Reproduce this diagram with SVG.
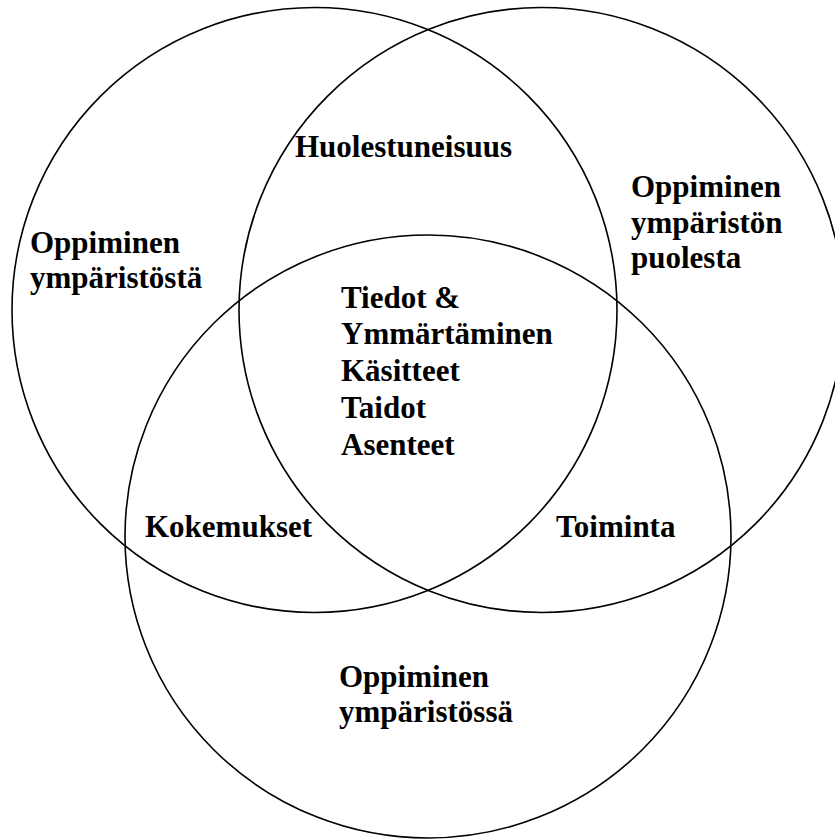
<svg xmlns="http://www.w3.org/2000/svg" width="835" height="839" viewBox="0 0 835 839">
<style>
.c{fill:none;stroke:#000;stroke-width:1.6}
.t{font-family:"Liberation Serif","Times New Roman",serif;font-weight:bold;font-size:31px;fill:#000}
</style>
<rect width="835" height="839" fill="#fff"/>
<g id="circle-left"><ellipse class="c" cx="314.5" cy="310" rx="302.5" ry="302.5"/></g>
<g id="circle-right"><ellipse class="c" cx="541.5" cy="310" rx="302.5" ry="302.5"/></g>
<g id="circle-bottom"><ellipse class="c" cx="428" cy="536.5" rx="303" ry="301.5"/></g>
<g id="label-left" class="t">
<text x="30" y="253">Oppiminen</text>
<text x="30" y="288">ympäristöstä</text>
</g>
<g id="label-right" class="t">
<text x="631" y="197">Oppiminen</text>
<text x="631" y="233">ympäristön</text>
<text x="631" y="268">puolesta</text>
</g>
<g id="label-top" class="t"><text x="295" y="157">Huolestuneisuus</text></g>
<g id="label-center" class="t">
<text x="341" y="308">Tiedot &amp;</text>
<text x="341" y="344">Ymmärtäminen</text>
<text x="341" y="381">Käsitteet</text>
<text x="341" y="418">Taidot</text>
<text x="341" y="455">Asenteet</text>
</g>
<g id="label-kokemukset" class="t"><text x="145" y="537">Kokemukset</text></g>
<g id="label-toiminta" class="t"><text x="556" y="537">Toiminta</text></g>
<g id="label-bottom" class="t">
<text x="339" y="687">Oppiminen</text>
<text x="339" y="722">ympäristössä</text>
</g>
</svg>
